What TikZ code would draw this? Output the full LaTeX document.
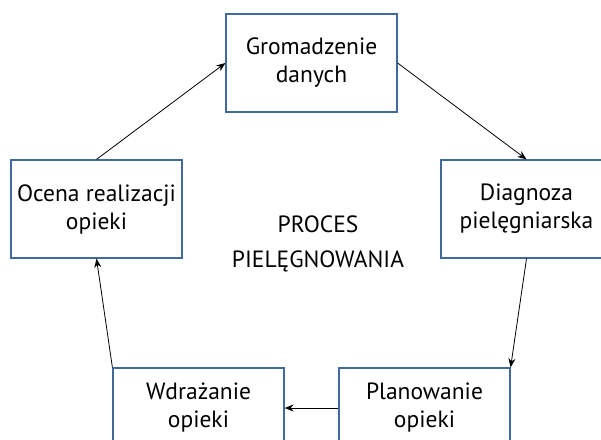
\documentclass[tikz,border=0pt]{standalone}
\usepackage{fontspec}
\setmainfont{PT Sans}
\usetikzlibrary{arrows.meta}
\definecolor{boxblue}{RGB}{65,105,155}
\begin{document}
\begin{tikzpicture}[x=1pt,y=1pt,
  box/.style={draw=boxblue, line width=1.2pt, minimum width=171pt, minimum height=98pt,
    align=center, font=\fontsize{23.5}{28}\selectfont, inner sep=0pt},
  arr/.style={-{Stealth[length=9pt,width=7pt]}, line width=0.8pt}]
\useasboundingbox (0,0) rectangle (601,439);
\node[box] (gd) at (311.5,376) {Gromadzenie\\danych};
\node[box] (ocena) at (96.5,230) {Ocena realizacji\\opieki};
\node[box] (diag) at (526.5,230) {Diagnoza\\pielęgniarska};
\node[box, minimum height=80pt] (wdr) at (198.5,31) {Wdrażanie\\opieki};
\node[box, minimum height=80pt] (plan) at (424.5,31) {Planowanie\\opieki};
\node[align=center, font=\fontsize{23.5}{35}\selectfont] (proc) at (318,195) {PROCES\\PIELĘGNOWANIA};
\draw[arr] (ocena.north) -- (gd.west);
\draw[arr] (gd.east) -- (diag.north);
\draw[arr] (diag.south) -- (plan.north east);
\draw[arr] (plan.west) -- (wdr.east);
\draw[arr] (wdr.north west) -- (ocena.south);
\end{tikzpicture}
\end{document}
